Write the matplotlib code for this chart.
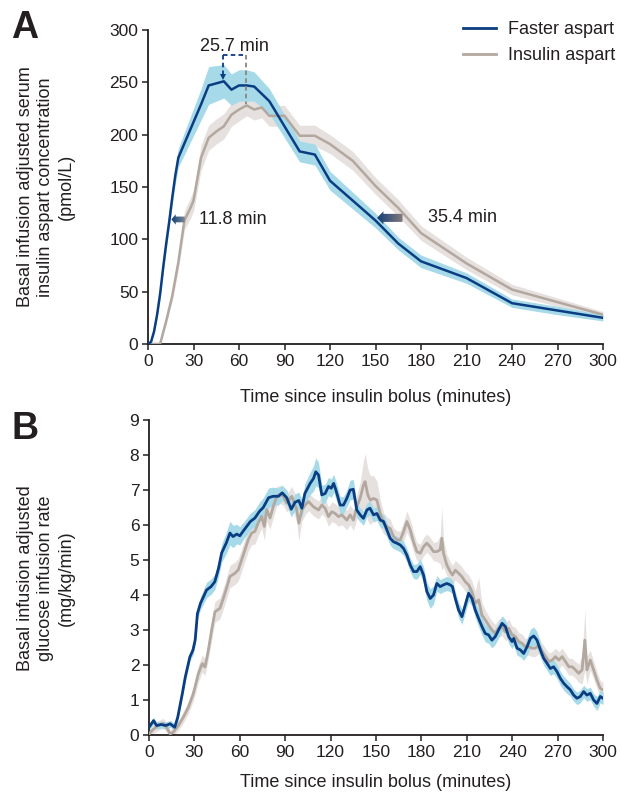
import numpy as np
import matplotlib
matplotlib.use("Agg")
import matplotlib.pyplot as plt
from matplotlib.patches import FancyArrow
from matplotlib.colors import LinearSegmentedColormap

plt.rcParams['font.family'] = ['Liberation Sans', 'DejaVu Sans']

# ---------------- Panel A data (pmol/L) ----------------
a_fast_t = [0, 2, 4, 6, 8, 10, 12, 14, 16, 18, 20, 25, 30, 35, 40, 45, 50, 55, 60, 65,
            70, 80, 90, 100, 110, 120, 135, 150, 165, 180, 210, 240, 270, 300]
a_fast_v = [0, 2, 12, 28, 48, 73, 96, 117, 140, 161, 178, 195, 212, 229, 247, 249, 251, 243, 247, 247,
            246, 232, 208, 184, 181, 156, 137, 118, 96, 79, 63, 39, 32, 25]
a_fast_w = [0, 1, 2, 3, 4, 5, 6, 6, 7, 8, 9, 11, 13, 15, 18, 17, 16, 15, 15, 15,
            14, 12, 11, 10, 10, 9, 8, 7, 6, 6, 5, 4, 4, 3]

a_asp_t = [0, 4, 8, 12, 16, 20, 24, 28, 30, 35, 40, 45, 50, 55, 60, 65, 70, 75, 80, 90,
           100, 110, 120, 135, 150, 165, 180, 210, 240, 270, 300]
a_asp_v = [0, 0, 0, 22, 46, 78, 118, 130, 137, 178, 197, 203, 208, 219, 224, 228, 224, 226, 218, 218,
           199, 199, 191, 175, 151, 130, 106, 77, 52, 40, 28]
a_asp_w = [0, 0, 1, 3, 5, 7, 9, 10, 10, 12, 12, 12, 12, 11, 11, 10, 10, 10, 10, 10,
           10, 10, 9, 9, 8, 8, 7, 6, 5, 4, 3]

# ---------------- Panel B data (mg/kg/min) ----------------
b_fast_t = [0, 3, 5, 8, 11, 14, 17, 19, 22, 24,
            27, 29, 30.5, 32, 34, 36, 38, 41, 43.5, 46,
            48, 51, 53.5, 55.5, 58, 60, 63, 67, 70, 73,
            75.5, 79, 82, 85.5, 88, 91, 94, 96.5, 99, 101,
            103, 106.5, 108.7, 110.2, 112, 114.2, 116.4, 118.6, 120.4, 122,
            123.5, 126.3, 128.5, 130.7, 132.9, 135, 137.3, 139.5, 141.7, 144,
            146, 148.4, 150.6, 152.8, 155, 157.2, 159.4, 161.6, 163.8, 166,
            168.2, 170.4, 172.6, 174.8, 177, 179.2, 181.4, 183.6, 185.8, 188,
            190.2, 192.4, 194.6, 196.8, 199, 200.5, 202.4, 204.6, 206.8, 209,
            211.2, 213.4, 215.6, 217.8, 220, 222.2, 224.4, 226.6, 228.8, 231,
            233.3, 235.5, 237.7, 239.9, 241, 243.2, 245.4, 247.6, 249.8, 252,
            254.2, 256.4, 258.6, 260.8, 263, 265.2, 267.4, 269.6, 271.8, 274,
            276.2, 278.4, 280.6, 282.8, 285, 287.2, 289.4, 291.6, 293.8, 296,
            298.2, 300]
b_fast_v = [0.22, 0.41, 0.27, 0.30, 0.27, 0.32, 0.22, 0.51, 1.18, 1.66,
            2.23, 2.42, 2.71, 3.47, 3.76, 3.95, 4.14, 4.24, 4.38, 4.77,
            5.20, 5.48, 5.77, 5.67, 5.74, 5.69, 5.87, 6.10, 6.20, 6.39,
            6.50, 6.78, 6.82, 6.82, 6.92, 6.78, 6.45, 6.65, 6.70, 6.48,
            6.90, 7.19, 7.33, 7.52, 7.43, 6.86, 6.90, 7.10, 7.05, 7.19,
            7.00, 6.57, 6.57, 6.76, 7.00, 7.02, 6.43, 6.29, 6.19, 6.43,
            6.48, 6.29, 6.33, 6.14, 6.10, 5.86, 5.62, 5.52, 5.48, 5.43,
            5.33, 5.14, 4.86, 4.67, 4.67, 4.81, 4.57, 4.10, 3.90, 4.00,
            4.33, 4.24, 4.29, 4.33, 4.29, 4.24, 3.90, 3.57, 3.38, 3.71,
            4.05, 3.90, 3.57, 3.33, 3.10, 2.90, 2.86, 2.71, 2.81, 3.00,
            3.19, 3.10, 2.81, 2.67, 2.76, 2.48, 2.43, 2.33, 2.52, 2.76,
            2.83, 2.71, 2.43, 2.19, 2.05, 1.90, 1.95, 1.81, 1.62, 1.48,
            1.38, 1.29, 1.14, 1.05, 1.10, 1.24, 1.14, 1.19, 1.00, 0.90,
            1.10, 1.05]
b_fast_w = [0.10, 0.10, 0.10, 0.10, 0.10, 0.10, 0.10, 0.12, 0.12, 0.12,
            0.12, 0.14, 0.14, 0.16, 0.18, 0.20, 0.22, 0.22, 0.22, 0.24,
            0.26, 0.30, 0.34, 0.32, 0.28, 0.26, 0.24, 0.24, 0.24, 0.26,
            0.28, 0.28, 0.26, 0.24, 0.22, 0.22, 0.22, 0.24, 0.24, 0.26,
            0.28, 0.32, 0.36, 0.40, 0.36, 0.28, 0.26, 0.26, 0.26, 0.26,
            0.26, 0.24, 0.24, 0.24, 0.28, 0.28, 0.22, 0.20, 0.20, 0.20,
            0.20, 0.20, 0.20, 0.20, 0.20, 0.20, 0.20, 0.20, 0.20, 0.20,
            0.20, 0.20, 0.20, 0.20, 0.22, 0.22, 0.24, 0.26, 0.28, 0.26,
            0.22, 0.20, 0.20, 0.20, 0.20, 0.20, 0.20, 0.22, 0.22, 0.22,
            0.22, 0.22, 0.22, 0.24, 0.24, 0.24, 0.24, 0.22, 0.22, 0.22,
            0.22, 0.20, 0.20, 0.20, 0.20, 0.20, 0.20, 0.20, 0.24, 0.26,
            0.26, 0.24, 0.20, 0.20, 0.20, 0.20, 0.20, 0.20, 0.20, 0.20,
            0.20, 0.18, 0.18, 0.18, 0.18, 0.18, 0.18, 0.18, 0.18, 0.20,
            0.18, 0.18]

b_asp_t = [0, 3, 6, 9.5, 11.7, 13.9, 16, 19.4, 22.7, 26,
           29.3, 32.6, 35.2, 37, 39.2, 41.4, 43.6, 46.9, 50.2, 53.5,
           56.8, 59, 61.2, 63.4, 65.6, 67.8, 70, 72.2, 74.4, 76.2,
           77.8, 80, 82.2, 84.4, 86.6, 88.8, 91, 94.3, 97.6, 99,
           101, 103.2, 105.4, 108.7, 112, 114.2, 116.4, 118.6, 120.8, 123,
           125.2, 127.4, 130.7, 132.9, 135.1, 137.3, 139.5, 141.7, 142.8, 144.6,
           146.2, 148.4, 150.6, 152.8, 155, 157.2, 159.4, 161.6, 163.8, 166,
           168.2, 170.4, 172.6, 174.8, 177, 179.2, 181.4, 183.6, 185.8, 188,
           190.2, 192.4, 193.5, 194.6, 196.8, 199, 200.5, 202.4, 204.6, 206.8,
           209, 211.2, 213.4, 215.6, 217.8, 220, 222.2, 224.4, 226.6, 228.8,
           231, 233.3, 235.5, 237.7, 239.9, 242.1, 244.3, 246.5, 248.7, 250.9,
           253.1, 255.3, 257.5, 259.8, 262, 264.2, 266.4, 268.6, 270.8, 273,
           275.2, 277.4, 279.6, 281.8, 284, 286.2, 288, 289.4, 291.6, 293.8,
           296, 298.2, 300]
b_asp_v = [0.03, 0.17, 0.27, 0.33, 0.22, 0.03, 0.08, 0.27, 0.51, 0.79,
           1.18, 1.75, 2.04, 1.94, 2.42, 3.00, 3.52, 3.62, 4.05, 4.53,
           4.62, 4.72, 5.00, 5.29, 5.58, 5.77, 5.82, 6.06, 6.25, 5.96,
           6.44, 6.20, 6.54, 6.82, 6.87, 6.82, 6.63, 6.82, 6.44, 6.05,
           6.43, 6.57, 6.67, 6.52, 6.43, 6.57, 6.48, 6.24, 6.38, 6.33,
           6.24, 6.29, 6.14, 6.29, 6.14, 6.52, 6.76, 7.14, 7.24, 6.86,
           6.71, 6.76, 6.71, 6.33, 6.05, 5.95, 5.90, 5.67, 5.57, 5.57,
           5.81, 6.10, 5.86, 5.52, 5.24, 5.19, 5.38, 5.48, 5.38, 5.24,
           5.24, 5.29, 5.62, 5.19, 4.86, 4.67, 4.57, 4.71, 4.62, 4.52,
           4.38, 4.29, 4.10, 3.76, 3.86, 3.43, 3.29, 3.14, 3.00, 2.90,
           3.05, 3.10, 2.95, 3.05, 2.86, 2.81, 2.67, 2.62, 2.52, 2.52,
           2.48, 2.48, 2.57, 2.38, 2.24, 2.10, 2.14, 2.24, 2.14, 2.24,
           2.10, 1.95, 1.95, 1.86, 1.76, 1.86, 2.71, 1.86, 2.14, 1.86,
           1.57, 1.33, 1.29]
b_asp_w = [0.10, 0.12, 0.14, 0.14, 0.14, 0.12, 0.12, 0.14, 0.16, 0.18,
           0.20, 0.24, 0.24, 0.24, 0.26, 0.28, 0.30, 0.30, 0.30, 0.32,
           0.32, 0.32, 0.32, 0.32, 0.32, 0.34, 0.36, 0.36, 0.34, 0.40,
           0.34, 0.32, 0.30, 0.28, 0.26, 0.26, 0.26, 0.28, 0.36, 0.50,
           0.32, 0.28, 0.26, 0.26, 0.26, 0.26, 0.26, 0.28, 0.28, 0.28,
           0.28, 0.28, 0.28, 0.28, 0.30, 0.34, 0.45, 0.70, 0.80, 0.75,
           0.70, 0.65, 0.55, 0.40, 0.30, 0.28, 0.26, 0.26, 0.26, 0.26,
           0.28, 0.30, 0.30, 0.28, 0.26, 0.26, 0.26, 0.26, 0.26, 0.26,
           0.28, 0.40, 0.90, 0.40, 0.30, 0.28, 0.28, 0.28, 0.28, 0.28,
           0.28, 0.28, 0.30, 0.35, 0.65, 0.35, 0.28, 0.26, 0.26, 0.26,
           0.26, 0.26, 0.26, 0.26, 0.26, 0.26, 0.26, 0.26, 0.24, 0.24,
           0.24, 0.24, 0.24, 0.24, 0.24, 0.24, 0.24, 0.24, 0.24, 0.24,
           0.24, 0.24, 0.24, 0.24, 0.26, 0.40, 0.85, 0.40, 0.28, 0.26,
           0.24, 0.22, 0.20]

x_ticks = [0, 30, 60, 90, 120, 150, 180, 210, 240, 270, 300]
a_yticks = [0, 50, 100, 150, 200, 250, 300]
b_yticks = [0, 1, 2, 3, 4, 5, 6, 7, 8, 9]
series_labels = ["Faster aspart", "Insulin aspart"]

# ---------------- style ----------------
BLUE = "#0a3d82"
BLUE_BAND = "#a6dae9"
GRAY = "#b3a89f"
GRAY_BAND = "#e6e1de"
TXT = "#231f20"
FS = 13
TICK_FS = 12.5

W, H = 621, 794
fig = plt.figure(figsize=(W / 100, H / 100), dpi=100)

def px_axes(x0, x1, y0, y1):
    return fig.add_axes([x0 / W, 1 - y1 / H, (x1 - x0) / W, (y1 - y0) / H])

axA = px_axes(148, 603, 30, 344)
axB = px_axes(149, 603, 420, 735)

def style(ax, yticks, ylim, labelpad):
    ax.set_xlim(0, 300)
    ax.set_ylim(*ylim)
    ax.set_xticks(x_ticks)
    ax.set_yticks(yticks)
    for s in ("top", "right"):
        ax.spines[s].set_visible(False)
    for s in ("left", "bottom"):
        ax.spines[s].set_linewidth(1.3)
        ax.spines[s].set_color(TXT)
    ax.tick_params(direction="out", length=4, width=1.1, colors=TXT,
                   labelsize=TICK_FS, pad=3)
    ax.set_xlabel("Time since insulin bolus (minutes)", fontsize=FS, color=TXT,
                  labelpad=labelpad)

def draw_series(ax, t, v, w, line_c, band_c, label, lw):
    t = np.asarray(t, float); v = np.asarray(v, float); w = np.asarray(w, float)
    ax.fill_between(t, v - w, v + w, color=band_c, lw=0, zorder=1)
    ax.plot(t, v, color=line_c, lw=lw, zorder=3, label=label, solid_joinstyle="round")

# Panel A: draw insulin aspart first, faster aspart on top
draw_series(axA, a_asp_t, a_asp_v, a_asp_w, GRAY, GRAY_BAND, series_labels[1], 1.8)
draw_series(axA, a_fast_t, a_fast_v, a_fast_w, BLUE, BLUE_BAND, series_labels[0], 1.8)
style(axA, a_yticks, (0, 300), 14.5)

draw_series(axB, b_asp_t, b_asp_v, b_asp_w, GRAY, GRAY_BAND, series_labels[1], 2.0)
draw_series(axB, b_fast_t, b_fast_v, b_fast_w, BLUE, BLUE_BAND, series_labels[0], 2.0)
style(axB, b_yticks, (0, 9), 10.5)

# legend
h, l = axA.get_legend_handles_labels()
order = [l.index(series_labels[0]), l.index(series_labels[1])]
axA.legend([h[i] for i in order], [l[i] for i in order], loc="upper left",
           bbox_to_anchor=(463 / W, 1 - 21 / H), bbox_transform=fig.transFigure,
           frameon=False, fontsize=FS, handlelength=1.85, handletextpad=0.65,
           labelspacing=0.52, borderpad=0, borderaxespad=0, labelcolor=TXT)
for line in axA.get_legend().get_lines():
    line.set_linewidth(2.0)

# ---------------- Panel A annotations ----------------
# 25.7 min bracket
axA.plot([49.5, 49.5], [276.5, 256], color=BLUE, lw=1.3, ls=(0, (2.5, 1.8)), zorder=4)
axA.plot([49.5, 64.9], [276.5, 276.5], color=BLUE, lw=1.3, ls=(0, (2.5, 1.8)), zorder=4)
axA.plot([64.9, 64.9], [276.5, 229], color="#8a8480", lw=1.3, ls=(0, (2.5, 1.8)), zorder=4)
axA.plot([49.5], [255.5], marker="v", color=BLUE, ms=4.5, zorder=5, mew=0)
axA.text(57, 284.5, "25.7 min", fontsize=FS, color=TXT, ha="center", va="center")

def grad_arrow(ax, x_tail, x_head, y, body_w, head_w, head_len, c_head, c_tail):
    arr = FancyArrow(x_tail, y, x_head - x_tail, 0, width=body_w, head_width=head_w,
                     head_length=head_len, length_includes_head=True,
                     facecolor="none", edgecolor="none", transform=ax.transData)
    ax.add_patch(arr)
    cmap = LinearSegmentedColormap.from_list("g", [c_head, c_tail])
    grad = np.linspace(0, 1, 256).reshape(1, -1)
    im = ax.imshow(grad, extent=[x_head, x_tail, y - head_w / 2, y + head_w / 2],
                   aspect="auto", cmap=cmap, zorder=5, interpolation="bilinear")
    im.set_clip_path(arr)

grad_arrow(axA, 24.2, 15.4, 119, 5.5, 10, 2.9, "#0f3f78", "#7d8590")
axA.text(33.6, 119, "11.8 min", fontsize=FS, color=TXT, ha="left", va="center")
grad_arrow(axA, 167.8, 151.0, 120.5, 7.7, 12.5, 4.2, "#123f78", "#857a7c")
axA.text(184.6, 120.5, "35.4 min", fontsize=FS, color=TXT, ha="left", va="center")
axA.set_xlim(0, 300)
axA.set_ylim(0, 300)

# ---------------- y labels and panel letters ----------------
fig.text(46 / W, 1 - 187 / H,
         "Basal infusion adjusted serum\ninsulin aspart concentration\n(pmol/L)",
         rotation=90, ha="center", va="center", multialignment="center",
         fontsize=FS, color=TXT, linespacing=1.28)
fig.text(46 / W, 1 - 578 / H,
         "Basal infusion adjusted\nglucose infusion rate\n(mg/kg/min)",
         rotation=90, ha="center", va="center", multialignment="center",
         fontsize=FS, color=TXT, linespacing=1.28)
fig.text(11 / W, 1 - 38 / H, "A", fontsize=27, fontweight="bold", color=TXT, va="baseline")
fig.text(11 / W, 1 - 439 / H, "B", fontsize=27, fontweight="bold", color=TXT, va="baseline")

fig.savefig("out.png", dpi=100)
